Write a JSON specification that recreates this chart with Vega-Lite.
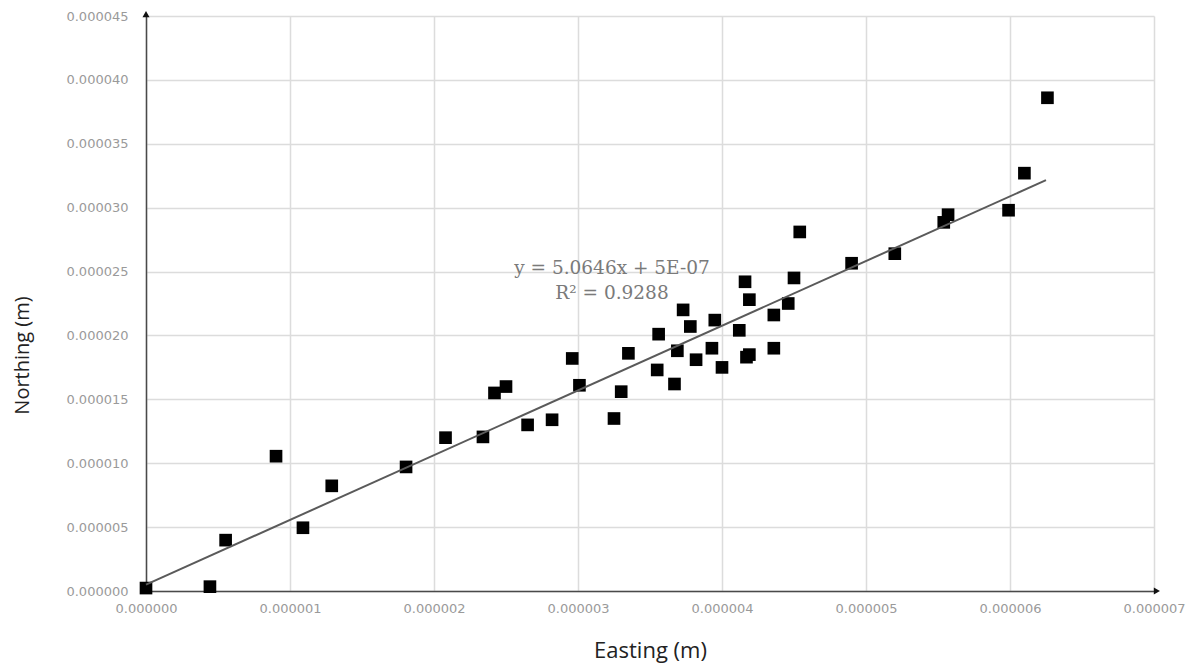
{
  "$schema": "https://vega.github.io/schema/vega-lite/v6.json",
  "width": 1008,
  "height": 575,
  "autosize": "none",
  "padding": {"left": 146, "top": 16, "right": 41, "bottom": 73},
  "background": "white",
  "config": {"view": {"stroke": null}},
  "encoding": {
    "x": {"field": "x", "type": "quantitative",
      "scale": {"domain": [0, 0.000007], "nice": false, "zero": false},
      "axis": {"title": "Easting (m)", "values": [0, 0.000001, 0.000002, 0.000003, 0.000004, 0.000005, 0.000006, 0.000007],
        "format": ".6f", "ticks": false, "labelPadding": 11, "labelFont": "DejaVu Sans", "labelFontSize": 13, "labelColor": "#9a9a9a",
        "domainColor": "#4a4a4a", "domainWidth": 1.5, "gridColor": "#dcdcdc", "gridWidth": 1.5,
        "titleFont": "Open Sans", "titleFontSize": 22, "titleFontWeight": "normal", "titleColor": "#222222", "titlePadding": 25, "labelFlush": false}},
    "y": {"field": "y", "type": "quantitative",
      "scale": {"domain": [0, 0.000045], "nice": false, "zero": false},
      "axis": {"title": "Northing (m)", "values": [0, 0.000005, 0.00001, 0.000015, 0.00002, 0.000025, 0.00003, 0.000035, 0.00004, 0.000045],
        "format": ".6f", "ticks": false, "labelPadding": 18, "labelFont": "DejaVu Sans", "labelFontSize": 13, "labelColor": "#9a9a9a",
        "domainColor": "#4a4a4a", "domainWidth": 1.5, "gridColor": "#dcdcdc", "gridWidth": 1.5,
        "titleFont": "Open Sans", "titleFontSize": 20, "titleFontWeight": "normal", "titleColor": "#222222", "titlePadding": 33, "titleY": 339, "labelFlush": false}}
  },
  "layer": [
    {
      "data": {"values": [
        {"x": 0.0, "y": 0.00000023},
        {"x": 0.000000444, "y": 0.00000034},
        {"x": 0.000000553, "y": 0.00000398},
        {"x": 0.000000903, "y": 0.00001055},
        {"x": 0.00000109, "y": 0.00000495},
        {"x": 0.00000129, "y": 0.00000823},
        {"x": 0.000001806, "y": 0.00000971},
        {"x": 0.00000208, "y": 0.0000120},
        {"x": 0.00000234, "y": 0.00001206},
        {"x": 0.00000242, "y": 0.0000155},
        {"x": 0.00000250, "y": 0.0000160},
        {"x": 0.00000265, "y": 0.0000130},
        {"x": 0.00000282, "y": 0.0000134},
        {"x": 0.00000296, "y": 0.0000182},
        {"x": 0.00000301, "y": 0.0000161},
        {"x": 0.00000325, "y": 0.0000135},
        {"x": 0.00000330, "y": 0.0000156},
        {"x": 0.00000335, "y": 0.0000186},
        {"x": 0.00000355, "y": 0.0000173},
        {"x": 0.00000356, "y": 0.0000201},
        {"x": 0.00000367, "y": 0.0000162},
        {"x": 0.00000369, "y": 0.0000188},
        {"x": 0.00000373, "y": 0.0000220},
        {"x": 0.00000378, "y": 0.0000207},
        {"x": 0.00000382, "y": 0.0000181},
        {"x": 0.00000393, "y": 0.0000190},
        {"x": 0.00000395, "y": 0.0000212},
        {"x": 0.00000400, "y": 0.0000175},
        {"x": 0.00000412, "y": 0.0000204},
        {"x": 0.00000416, "y": 0.0000242},
        {"x": 0.00000417, "y": 0.0000183},
        {"x": 0.00000419, "y": 0.0000185},
        {"x": 0.00000419, "y": 0.0000228},
        {"x": 0.00000436, "y": 0.0000216},
        {"x": 0.00000436, "y": 0.0000190},
        {"x": 0.00000446, "y": 0.0000225},
        {"x": 0.00000450, "y": 0.0000245},
        {"x": 0.00000454, "y": 0.0000281},
        {"x": 0.00000490, "y": 0.00002565},
        {"x": 0.00000520, "y": 0.0000264},
        {"x": 0.00000554, "y": 0.00002885},
        {"x": 0.00000557, "y": 0.00002945},
        {"x": 0.00000599, "y": 0.0000298},
        {"x": 0.00000610, "y": 0.0000327},
        {"x": 0.00000626, "y": 0.0000386}
      ]},
      "mark": {"type": "point", "shape": "square", "filled": true, "color": "#000000", "size": 160, "opacity": 1}
    },
    {
      "data": {"values": [
        {"x": 0.0, "y": 0.0000005},
        {"x": 0.00000625, "y": 0.0000321538}
      ]},
      "mark": {"type": "line", "color": "#5a5a5a", "strokeWidth": 2}
    },
    {
      "data": {"values": [
        {"x": 0.000003236, "y": 0.00002531, "label": "y = 5.0646x + 5E-07"},
        {"x": 0.000003236, "y": 0.00002336, "label": "R² = 0.9288"}
      ]},
      "mark": {"type": "text", "font": "DejaVu Serif", "fontSize": 18.5, "color": "#7a7a7a", "align": "center", "baseline": "middle"},
      "encoding": {"text": {"field": "label"}}
    },
    {
      "data": {"values": [
        {"x": 0.00000702, "y": 0.0, "shape": "triangle-right"},
        {"x": 0.0, "y": 0.00004515, "shape": "triangle-up"}
      ]},
      "mark": {"type": "point", "filled": true, "color": "#111111", "size": 50, "opacity": 1},
      "encoding": {"shape": {"field": "shape", "type": "nominal", "scale": null}}
    }
  ]
}
